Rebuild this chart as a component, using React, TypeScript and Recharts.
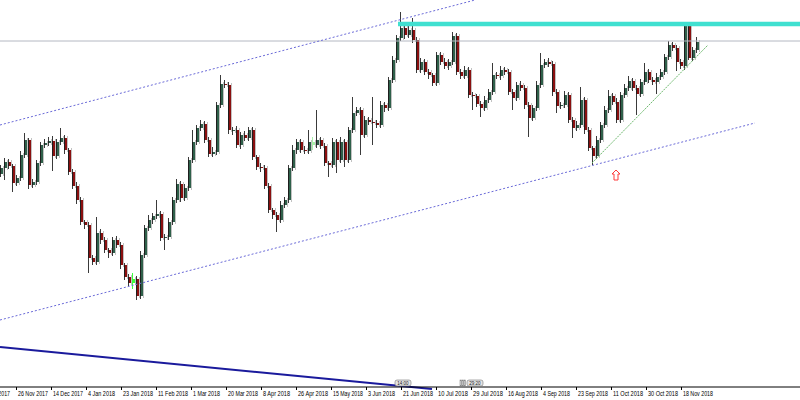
import { ComposedChart, Bar, XAxis, YAxis, ReferenceLine, ReferenceDot } from "recharts";

// ─── Data (price units = chart points) ────────────────────────────────────────

const firstOpen = 226;

const closes = [
  232, 238, 234, 217, 222, 245, 260, 215, 218, 237,
  255, 257, 259, 244, 258, 262, 250, 228, 214, 200,
  178, 175, 142, 138, 167, 160, 150, 147, 160, 155,
  135, 123, 117, 121, 104, 145, 172, 180, 184, 186,
  162, 163, 178, 200, 216, 202, 212, 240, 258, 272,
  276, 260, 246, 248, 295, 316, 315, 270, 270, 255,
  265, 262, 270, 243, 233, 232, 214, 190, 185, 180,
  195, 200, 232, 250, 258, 250, 249, 258, 255, 260,
  254, 237, 235, 258, 240, 258, 240, 270, 287, 290,
  265, 280, 278, 277, 275, 295, 292, 320, 340, 362,
  372, 365, 370, 360, 330, 338, 328, 325, 317, 345,
  338, 334, 338, 364, 328, 324, 330, 305, 304, 296,
  292, 300, 308, 325, 324, 330, 328, 308, 302, 315,
  312, 295, 282, 292, 315, 335, 338, 336, 308, 294,
  295, 305, 280, 272, 275, 300, 270, 252, 244, 260,
  275, 290, 304, 298, 280, 305, 312, 319, 312, 306,
  318, 328, 320, 318, 323, 328, 343, 355, 352, 338,
  334, 374, 342, 350, 358,
];

const upWick = [
  3, 4, 3, 2, 3, 4, 7, 2, 3, 3,
  3, 4, 4, 5, 3, 10, 3, 2, 3, 4,
  3, 2, 3, 3, 16, 4, 3, 2, 3, 4,
  3, 2, 3, 6, 3, 4, 3, 5, 3, 14,
  3, 3, 4, 3, 5, 3, 4, 3, 12, 3,
  4, 3, 3, 5, 3, 9, 4, 3, 3, 4,
  3, 4, 3, 3, 2, 4, 3, 3, 2, 3,
  4, 3, 3, 5, 3, 3, 4, 12, 5, 30,
  3, 3, 2, 4, 3, 5, 3, 3, 16, 3,
  3, 4, 3, 25, 3, 4, 3, 3, 4, 3,
  16, 3, 4, 12, 3, 4, 3, 3, 2, 3,
  3, 4, 3, 4, 3, 3, 4, 3, 3, 2,
  3, 4, 3, 12, 3, 4, 3, 3, 3, 3,
  4, 3, 3, 3, 4, 12, 3, 4, 3, 3,
  3, 4, 3, 3, 4, 13, 3, 3, 2, 4,
  3, 4, 6, 3, 4, 3, 4, 5, 3, 3,
  3, 9, 3, 3, 4, 3, 3, 4, 3, 3,
  3, 1, 3, 3, 5,
];

const downWick = [
  3, 12, 3, 9, 3, 3, 3, 4, 3, 3,
  3, 3, 3, 15, 3, 3, 4, 3, 3, 4,
  3, 4, 15, 3, 3, 4, 3, 5, 3, 3,
  4, 3, 3, 6, 4, 3, 3, 3, 4, 3,
  3, 12, 3, 3, 3, 4, 3, 3, 3, 3,
  3, 3, 3, 3, 3, 3, 3, 4, 5, 3,
  4, 3, 3, 3, 3, 4, 3, 3, 4, 12,
  3, 3, 3, 3, 4, 3, 3, 3, 5, 3,
  3, 3, 12, 3, 13, 3, 7, 3, 3, 3,
  20, 3, 3, 22, 3, 3, 4, 3, 3, 3,
  3, 4, 3, 3, 3, 3, 3, 4, 3, 3,
  3, 3, 4, 3, 3, 3, 3, 3, 14, 3,
  9, 3, 3, 3, 3, 4, 3, 3, 12, 3,
  3, 4, 19, 3, 3, 3, 3, 3, 4, 7,
  3, 3, 3, 10, 3, 3, 4, 3, 9, 3,
  3, 3, 3, 3, 3, 3, 3, 3, 3, 21,
  3, 3, 3, 3, 12, 3, 3, 3, 3, 9,
  3, 4, 2, 3, 3,
];

// candles drawn in a highlight colour
const highlighted: Record<number, string> = { 33: "#3cff3c", 78: "#a8f0a8" };

const tickPos = [
  -5.25, 3.5, 12.25, 21, 29.75, 38.5, 47.25, 56, 64.75, 73.5, 82.25,
  91, 99.75, 108.5, 117.25, 126, 134.75, 143.5, 152.25, 161, 169.75,
];
const tickLabels = [
  "7 Nov 2017", "26 Nov 2017", "14 Dec 2017", "4 Jan 2018", "23 Jan 2018",
  "11 Feb 2018", "1 Mar 2018", "20 Mar 2018", "8 Apr 2018", "26 Apr 2018",
  "15 May 2018", "3 Jun 2018", "21 Jun 2018", "10 Jul 2018", "29 Jul 2018",
  "16 Aug 2018", "4 Sep 2018", "23 Sep 2018", "11 Oct 2018", "30 Oct 2018",
  "18 Nov 2018",
];

// drawn objects (anchors in bar index / price)
const bidPrice = 359;
const resistance = [{ x: 99, y: 376 }, { x: 199.5, y: 376 }];
const channelTop = [{ x: -0.5, y: 275 }, { x: 118.25, y: 400 }];
const channelBottom = [{ x: -0.5, y: 80 }, { x: 188.25, y: 277 }];
const blueLine = [{ x: -0.5, y: 53 }, { x: 107.5, y: 11 }];
const greenLine = [{ x: 147.5, y: 237 }, { x: 176.5, y: 355 }];
const arrowAt = { x: 153.5, y: 225 };
const timeTags = [
  { x: 100.25, y: 17, text: "14:00", stripes: 0 },
  { x: 118.25, y: 17, text: "29:20", stripes: 3 },
];

const BULL = "#2f604a";
const BEAR = "#8a1010";
const FONT = "'Liberation Sans', Arial, sans-serif";

const data = closes.map((c, i) => {
  const open = i === 0 ? firstOpen : closes[i - 1];
  const high = Math.max(open, c) + upWick[i];
  const low = Math.min(open, c) - downWick[i];
  return { i, open, close: c, high, low, range: [low, high] };
});

// ─── Shapes ───────────────────────────────────────────────────────────────────

function Candle(props: any) {
  const { x, width, payload } = props;
  let { y, height } = props;
  if (height < 0) {
    y += height;
    height = -height;
  }
  const { open, close, high, low, i } = payload;
  const cx = Math.round(x + width / 2);
  const ppu = high === low ? 0 : height / (high - low);
  const top = Math.max(open, close);
  const bot = Math.min(open, close);
  const bodyY = y + (high - top) * ppu;
  const bodyH = Math.max(1, (top - bot) * ppu);
  const hl = highlighted[i];
  const fill = hl ?? (close >= open ? BULL : BEAR);
  return (
    <g>
      <rect x={cx + 1} y={bodyY - 2} width={1} height={bodyH + 4} fill="#c2c2c2" />
      <rect x={cx - 2} y={y} width={1} height={height} fill={hl ?? "#3a3a3a"} />
      <rect x={cx - 1} y={bodyY} width={2} height={bodyH} fill={fill} />
      <rect x={cx - 2} y={bodyY} width={1} height={bodyH} fill={hl ?? "#1e1e1e"} />
    </g>
  );
}

function DateTick({ x, y, payload }: any) {
  const idx = tickPos.indexOf(payload.value);
  const label = tickLabels[idx];
  const w = label.length >= 11 ? 30 : 27;
  return (
    <g>
      <line x1={x + 0.5} x2={x + 0.5} y1={y} y2={y + 3} stroke="#000" />
      <text
        x={x + 2}
        y={y + 9}
        fontSize={6.5}
        fontFamily={FONT}
        fill="#000"
        textLength={w}
        lengthAdjust="spacingAndGlyphs"
      >
        {label}
      </text>
    </g>
  );
}

function UpArrow({ cx, cy }: any) {
  const d = `M${cx},${cy - 5} L${cx + 4},${cy - 1} L${cx + 2},${cy - 1} L${cx + 2},${cy + 5} L${cx - 2},${cy + 5} L${cx - 2},${cy - 1} L${cx - 4},${cy - 1} Z`;
  return <path d={d} fill="#fff" stroke="#ff3a3a" strokeWidth={1} />;
}

function TimeTag(tag: { text: string; stripes: number }) {
  return ({ cx, cy }: any) => {
    const w = 16;
    const left = cx - w / 2;
    return (
      <g>
        {Array.from({ length: tag.stripes }).map((_, k) => (
          <rect key={k} x={left - 7 + k * 2} y={cy - 3} width={1.5} height={6} fill="#d8d8d8" stroke="#777" strokeWidth={0.5} />
        ))}
        <rect x={left} y={cy - 3} width={w} height={6} rx={2} fill="#e4e4e4" stroke="#777" strokeWidth={0.6} />
        <text x={cx} y={cy + 2} fontSize={4.5} textAnchor="middle" fontFamily={FONT} fill="#222">
          {tag.text}
        </text>
      </g>
    );
  };
}

// ─── Chart ────────────────────────────────────────────────────────────────────

export default function App() {
  return (
    <div style={{ position: "absolute", left: 0, top: 0, width: 800, height: 400, background: "#fff" }}>
      <ComposedChart width={800} height={400} data={data} margin={{ top: 0, right: 0, left: 0, bottom: 0 }}>
        <XAxis
          type="number"
          dataKey="i"
          domain={[-0.5, 199.5]}
          ticks={tickPos}
          interval={0}
          allowDataOverflow
          tick={<DateTick />}
          tickLine={false}
          tickSize={0}
          tickMargin={0}
          axisLine={{ stroke: "#000" }}
          height={13}
        />
        <YAxis hide type="number" domain={[13, 400]} allowDataOverflow />
        <ReferenceLine y={bidPrice} stroke="#b4b8c2" strokeWidth={1} />
        <ReferenceLine segment={resistance} stroke="#40e0d0" strokeWidth={4.5} ifOverflow="visible" />
        <ReferenceLine segment={channelTop} stroke="#6a6ad8" strokeDasharray="2 2" ifOverflow="visible" />
        <ReferenceLine segment={channelBottom} stroke="#6a6ad8" strokeDasharray="2 2" ifOverflow="visible" />
        <ReferenceLine segment={blueLine} stroke="#1a1a9c" strokeWidth={2} ifOverflow="visible" />
        <ReferenceLine segment={greenLine} stroke="#6cb86c" strokeDasharray="2 1" ifOverflow="visible" />
        <Bar dataKey="range" barSize={3} shape={<Candle />} isAnimationActive={false} />
        <ReferenceDot x={arrowAt.x} y={arrowAt.y} r={5} shape={<UpArrow />} ifOverflow="visible" />
        {timeTags.map((t) => (
          <ReferenceDot key={t.text} x={t.x} y={t.y} r={3} shape={TimeTag(t)} ifOverflow="visible" />
        ))}
      </ComposedChart>
    </div>
  );
}
